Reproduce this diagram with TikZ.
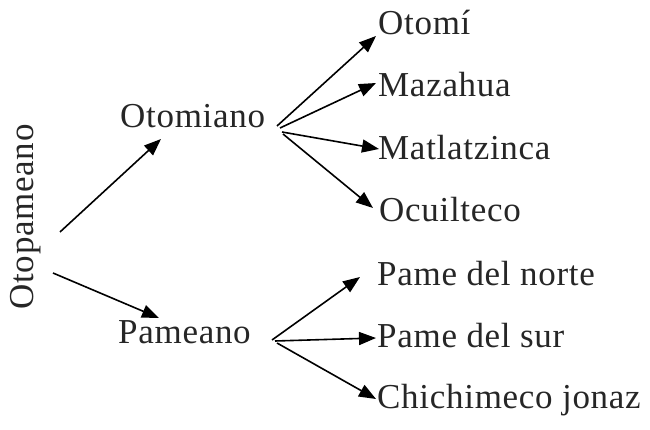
\documentclass[tikz,border=0pt]{standalone}
\usepackage{fontspec}
\setmainfont[LetterSpace=2]{Liberation Serif}
\usetikzlibrary{arrows.meta}
\begin{document}
\begin{tikzpicture}[x=1pt,y=-1pt,
  lbl/.style={inner sep=0pt,font=\fontsize{35}{40}\selectfont,text=black!85},
  arr/.style={line width=1.6pt,-{Triangle[length=17pt,width=13pt]}}]
\useasboundingbox (0,0) rectangle (650,430);
% texts
\node[lbl,rotate=90,anchor=base] (otopa) at (33,217) {Otopameano};
\node[lbl,anchor=base west] (otomiano) at (120,128) {Otomiano};
\node[lbl,anchor=base west] (pameano) at (118,343) {Pameano};
\node[lbl,anchor=base west] (otomi) at (378,35) {Otomí};
\node[lbl,anchor=base west] (mazahua) at (378,97) {Mazahua};
\node[lbl,anchor=base west] (matla) at (378,160) {Matlatzinca};
\node[lbl,anchor=base west] (ocuil) at (379,222) {Ocuilteco};
\node[lbl,anchor=base west] (pnorte) at (377,285) {Pame del norte};
\node[lbl,anchor=base west] (psur) at (377,347) {Pame del sur};
\node[lbl,anchor=base west] (chichi) at (377,408) {Chichimeco jonaz};
% connector points
\coordinate (a1) at (60,232);  \coordinate (t1) at (161,139);
\coordinate (a2) at (53,273);  \coordinate (t2) at (159,318);
\coordinate (b0) at (277,126); \coordinate (tb1) at (376,36);
\coordinate (b1) at (280,128); \coordinate (tb2) at (376,83);
\coordinate (b2) at (282,132); \coordinate (tb3) at (379,149);
\coordinate (b3) at (283,134); \coordinate (tb4) at (373,208);
\coordinate (c0) at (272,340); \coordinate (tc1) at (360,277);
\coordinate (c1) at (275,341); \coordinate (tc2) at (376,338);
\coordinate (c2) at (277,343); \coordinate (tc3) at (376,399);
\draw[arr] (a1) -- (t1);
\draw[arr] (a2) -- (t2);
\draw[arr] (b0) -- (tb1);
\draw[arr] (b1) -- (tb2);
\draw[arr] (b2) -- (tb3);
\draw[arr] (b3) -- (tb4);
\draw[arr] (c0) -- (tc1);
\draw[arr] (c1) -- (tc2);
\draw[arr] (c2) -- (tc3);
\end{tikzpicture}
\end{document}
